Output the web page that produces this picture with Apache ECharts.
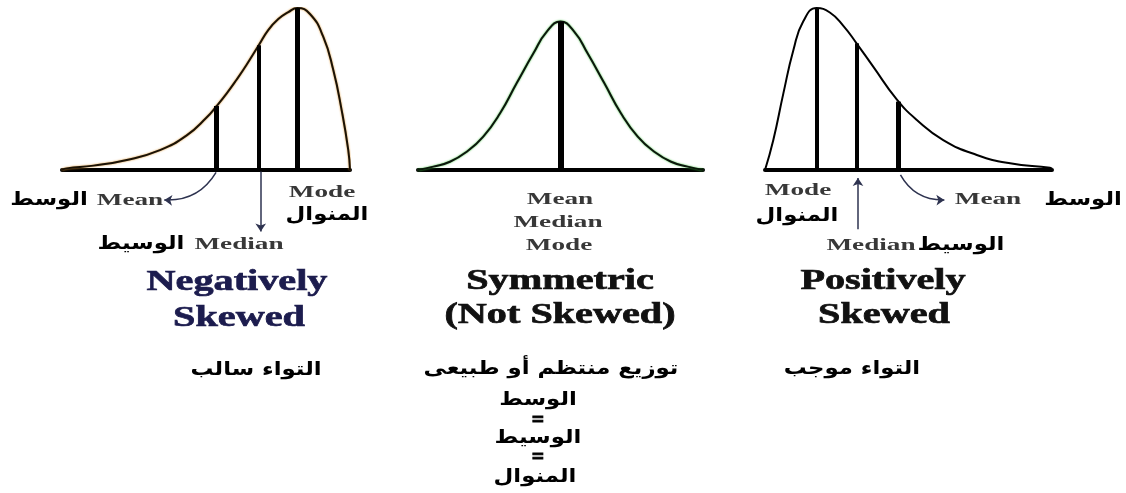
<!DOCTYPE html>
<html>
<head>
<meta charset="utf-8">
<script src="https://cdn.jsdelivr.net/npm/echarts@6/dist/echarts.min.js"></script>
<style>
  html, body { margin: 0; background: #fff; }
  #chart { width: 1126px; height: 493px; }
</style>
</head>
<body>
<div id="chart"></div>
<script>
// 曲线采样: x 沿底线 0..100, y 为峰高的 0..100
const negCurve = [
  [0, 0], [1.6, 1], [10.9, 2.7], [22.5, 6.2], [34, 12.3], [43.3, 21.4], [50.2, 32.4],
  [53.7, 39.5], [57.2, 47.3], [60.6, 55.7], [64.1, 65], [68.2, 76.7], [71.6, 86.4],
  [75.1, 93.2], [78.6, 97.5], [81.7, 100], [86.1, 96.3], [90.7, 82.3], [94.2, 61.7],
  [97.1, 37], [99.4, 12.3], [100, 0],
]
const symCurve = [
  [0, 0], [5.4, 2.1], [11.2, 5.1], [17.1, 11.3], [22.9, 20.6], [28.8, 35], [34.6, 53.5],
  [40.5, 72], [45.2, 85.4], [50, 91.6], [54.8, 85.4], [59.5, 72], [65.4, 53.5],
  [71.2, 35], [77.1, 20.6], [82.9, 11.3], [88.8, 5.1], [94.6, 2.1], [100, 0],
]
const posCurve = [
  [0, 0], [2.9, 18.5], [6.4, 47.3], [9.9, 74.1], [13.3, 91.6], [18, 100], [22.6, 97.2],
  [27.3, 89], [31.9, 78.2], [37.7, 63.8], [45.9, 43.6], [52.9, 30.9], [62.1, 18.5],
  [73.8, 9.3], [85.4, 4.1], [99.3, 1.4], [100, 0.8],
]

// 竖线 [x, 高度]: Mean / Median / Mode
const negMarks = [[53.7, 39.5], [68.2, 77], [81.7, 100]]
const symMarks = [[50, 91.6]]
const posMarks = [[18.2, 100], [31.9, 78.2], [46.4, 42.2]]

// 箭头 [from, to, curveness] (数据坐标, 底线下方为负)
const negArrows = [
  [[53.5, -1.5], [35.5, -18.5], 0.3],
  [[69, -1], [69, -38], 0],
]
const posArrows = [
  [[32.4, -36.5], [32.4, -5], 0],
  [[47.2, -3], [62.5, -18.5], -0.3],
]

const PANELS = [
  { left: 62, width: 288, curve: negCurve, marks: negMarks, widths: [5, 4, 5], arrows: negArrows,
    color: '#1a1206', shadow: '#d9902c' },
  { left: 418, width: 285, curve: symCurve, marks: symMarks, widths: [6], arrows: [],
    color: '#0c160c', shadow: '#3fc23f' },
  { left: 765, width: 287, curve: posCurve, marks: posMarks, widths: [4, 4, 5], arrows: posArrows,
    color: '#000', shadow: null },
]

const SERIF = '"Liberation Serif", "Times New Roman", serif'
const ARABIC = '"DejaVu Sans", sans-serif'

function txt(text, x, y, opt = {}) {
  const arabic = /[\u0600-\u06FF]/.test(text)
  const size = opt.size || (arabic ? 19 : 17)
  const fill = opt.color || (arabic ? '#000' : '#383838')
  return {
    type: 'text', x, y,
    scaleX: opt.scaleX || (arabic ? 1.2 : 1.6),
    silent: true,
    style: {
      text,
      font: `bold ${size}px ${arabic ? ARABIC : SERIF}`,
      fill,
      stroke: opt.stroke ? fill : null,
      lineWidth: opt.stroke || 0,
      align: 'center', verticalAlign: 'middle',
      textAlign: 'center', textVerticalAlign: 'middle',
    },
  }
}

const TITLE = { size: 30, scaleX: 1.34, stroke: 0.7 }
const EQ = { size: 24, scaleX: 0.9, stroke: 1, color: '#000' }

const labels = [
  // 负偏
  txt('Mean', 130, 201), txt('الوسط', 49, 200),
  txt('Median', 239, 245), txt('الوسيط', 141, 244),
  txt('Mode', 322, 193), txt('المنوال', 327, 215),
  // 对称
  txt('Mean', 560, 200), txt('Median', 558, 223), txt('Mode', 559, 246),
  // 正偏
  txt('Mode', 798, 191), txt('المنوال', 797, 216),
  txt('Median', 871, 246), txt('الوسيط', 961, 245),
  txt('Mean', 988, 200), txt('الوسط', 1083, 200),
  // 标题
  txt('Negatively', 237, 282, { ...TITLE, color: '#1c1c4e' }),
  txt('Skewed', 239, 318, { ...TITLE, color: '#1c1c4e' }),
  txt('Symmetric', 560, 281, { ...TITLE, color: '#111' }),
  txt('(Not Skewed)', 560, 315, { ...TITLE, color: '#111' }),
  txt('Positively', 883, 281, { ...TITLE, color: '#111' }),
  txt('Skewed', 884, 315, { ...TITLE, color: '#111' }),
  // 阿拉伯文说明
  txt('التواء سالب', 256, 370), txt('توزيع منتظم أو طبيعى', 551, 369),
  txt('التواء موجب', 852, 369),
  txt('الوسط', 538, 400), txt('=', 538, 421, EQ),
  txt('الوسيط', 538, 438), txt('=', 538, 458, EQ),
  txt('المنوال', 535, 477),
]

const chart = echarts.init(document.getElementById('chart'), null, { renderer: 'canvas' })

const curveSeries = PANELS.map((p, i) => ({
  type: 'line',
  xAxisIndex: i, yAxisIndex: i,
  data: p.curve,
  smooth: 0.5,
  showSymbol: false,
  silent: true,
  lineStyle: {
    color: p.color, width: 2,
    shadowColor: p.shadow || 'transparent', shadowBlur: p.shadow ? 2 : 0,
  },
  markLine: {
    silent: true,
    symbol: ['none', 'none'],
    label: { show: false },
    emphasis: { disabled: true },
    data: p.marks.map((m, k) => [
      { coord: [m[0], 0], lineStyle: { color: '#000', width: p.widths[k], type: 'solid' } },
      { coord: [m[0], m[1]] },
    ]),
  },
}))

const arrowSeries = PANELS.map((p, i) => ({
  type: 'lines',
  coordinateSystem: 'cartesian2d',
  xAxisIndex: i, yAxisIndex: i,
  silent: true,
  symbol: ['none', 'arrow'],
  symbolSize: 8,
  lineStyle: { color: '#2e3350', width: 1.5, opacity: 1 },
  data: p.arrows.map(a => ({ coords: [a[0], a[1]], lineStyle: { curveness: a[2] } })),
}))

chart.setOption({
  animation: false,
  backgroundColor: '#fff',
  grid: PANELS.map(p => ({ left: p.left, width: p.width, top: 8, height: 243 })),
  xAxis: PANELS.map((p, i) => ({
    type: 'value', gridIndex: i, min: 0, max: 100,
    axisLine: { onZero: true, lineStyle: { color: '#000', width: 4 } },
    axisTick: { show: false }, axisLabel: { show: false }, splitLine: { show: false },
  })),
  yAxis: PANELS.map((p, i) => ({
    type: 'value', gridIndex: i, min: -50, max: 100, show: false,
    splitLine: { show: false },
  })),
  series: [...curveSeries, ...arrowSeries],
  graphic: labels,
})
</script>
</body>
</html>
